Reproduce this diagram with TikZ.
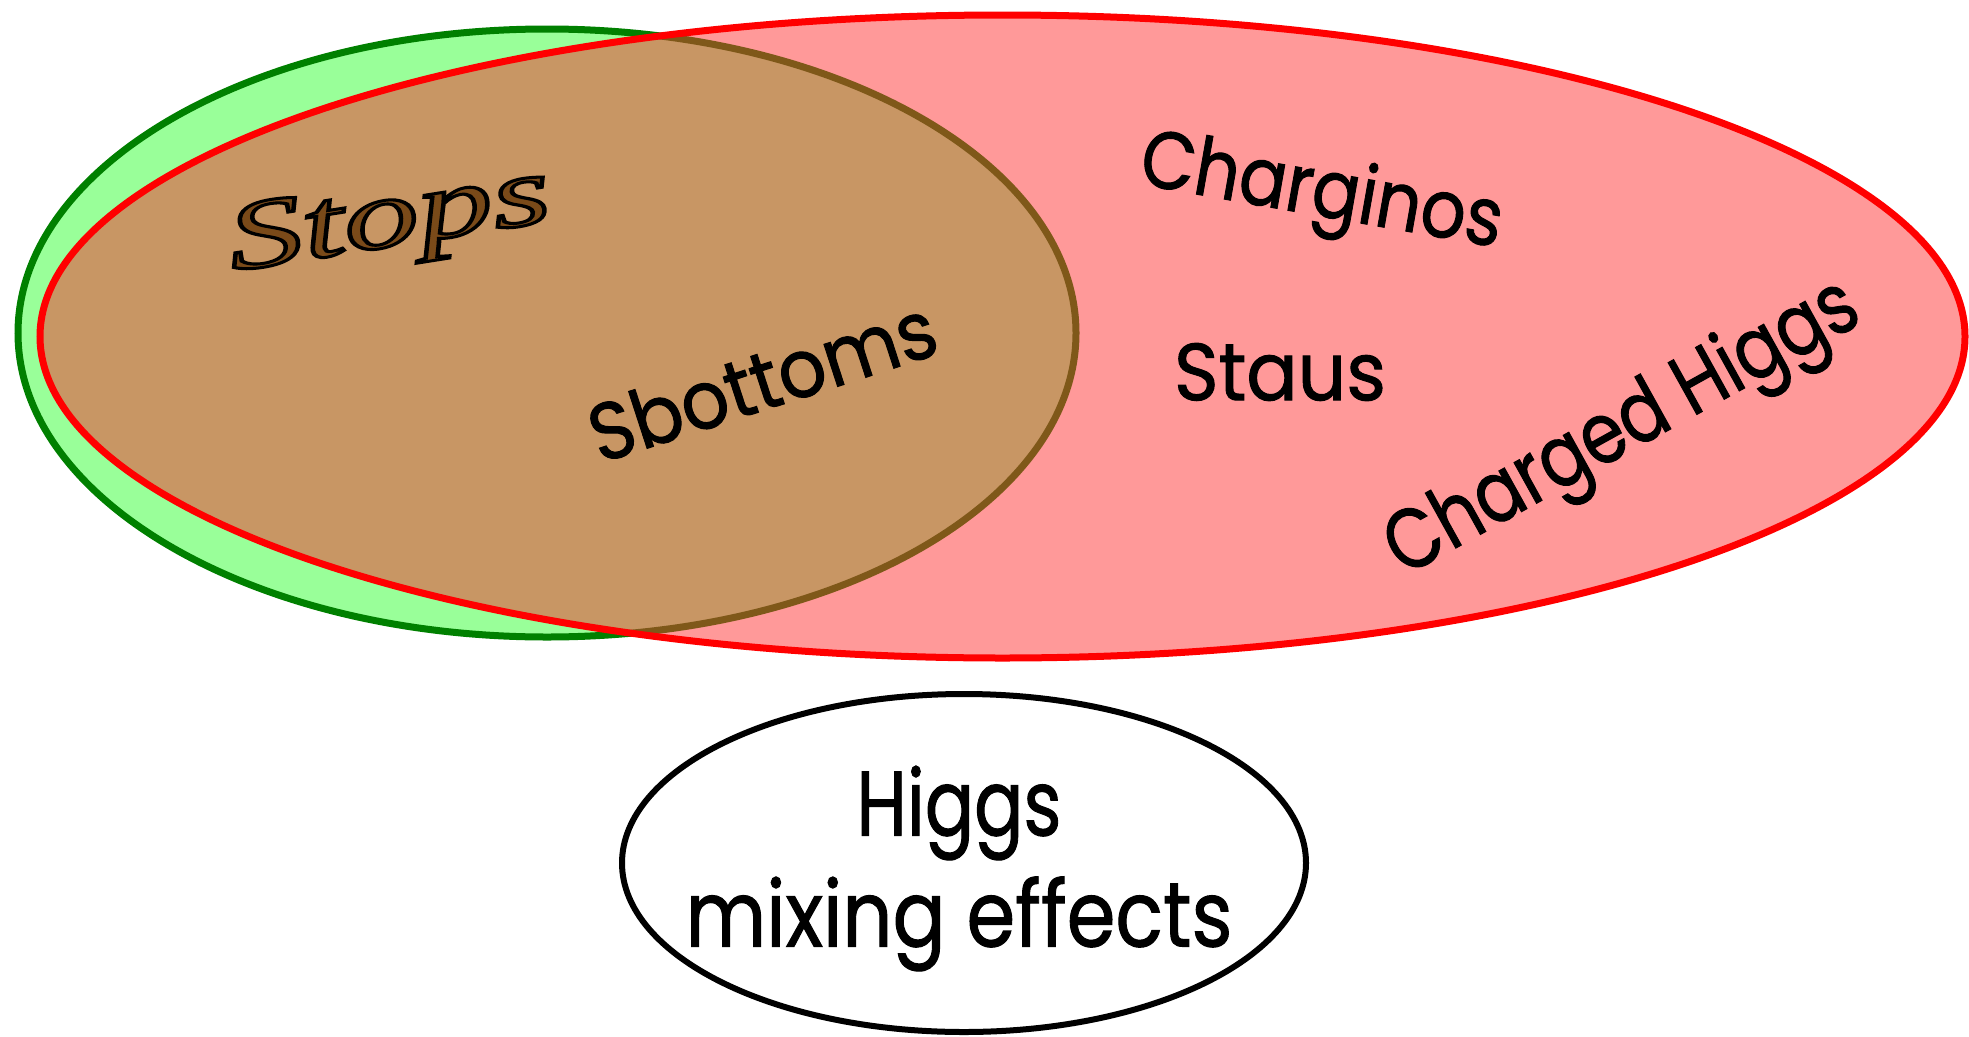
\documentclass[tikz,border=0pt]{standalone}
\usepackage{fontspec}
\usepackage{graphicx}
\usetikzlibrary{shapes.geometric}
\newfontfamily\handfont{Poppins}[FakeBold=1.2]
\newfontfamily\stopsfont{Liberation Serif}

\definecolor{greenfill}{RGB}{153,255,153}
\definecolor{greenline}{RGB}{0,128,0}
\definecolor{pinkfill}{RGB}{255,153,153}
\definecolor{redline}{RGB}{255,0,0}
\definecolor{brownfill}{RGB}{200,150,100}
\definecolor{brownline}{RGB}{127,88,25}
\definecolor{stopsbrown}{RGB}{122,74,25}

% stretch a text horizontally to a given width, keeping its height
\newcommand\fitw[2]{\resizebox{#1}{\height}{#2}}

\begin{document}
\begin{tikzpicture}[x=1pt,y=-1pt,
  setline/.style={line width=7pt},
  lbl/.style={inner sep=0pt, font=\handfont\fontsize{81}{90}\selectfont},
  biglbl/.style={inner sep=0pt, align=center, font=\handfont\fontsize{91.5}{111}\selectfont},
  greenset/.style={x radius=529pt, y radius=304pt},
  redset/.style={x radius=962.5pt, y radius=321.5pt}]
\useasboundingbox (0,0) rectangle (1969,1036);

\coordinate (gc) at (547,333);
\coordinate (rc) at (1002.5,336.5);

% left set
\path[setline, fill=greenfill, draw=greenline] (gc) ellipse [greenset];
% right set
\fill[pinkfill] (rc) ellipse [redset];
% overlap of the two sets
\begin{scope}
  \clip (rc) ellipse [redset];
  \path[setline, fill=brownfill, draw=brownline] (gc) ellipse [greenset];
\end{scope}
\draw[setline, redline] (rc) ellipse [redset];

% separate set below
\node[draw=black, fill=white, line width=6pt, ellipse, inner sep=0pt,
      minimum width=684pt, minimum height=338pt] (mix) at (964,863) {};

% labels
\node[inner sep=0pt, rotate=9] (stops) at (390,224)
  {\color{stopsbrown}\special{pdf:literal direct 2 Tr 3 w 0 0 0 RG}\fitw{325pt}{\stopsfont\itshape\fontsize{98}{100}\selectfont Stops}\special{pdf:literal direct 0 Tr}};
\node[lbl, rotate=18] (sbottoms) at (762,380) {\fitw{360pt}{Sbottoms}};
\node[lbl, rotate=-10] (charginos) at (1321,196) {\fitw{366pt}{Charginos}};
\node[lbl] (staus) at (1280,372) {\fitw{212pt}{Staus}};
\node[lbl, rotate=29, font=\handfont\fontsize{85}{90}\selectfont] (chiggs) at (1624,431) {\fitw{527pt}{Charged Higgs}};
\node[biglbl] (mixlabel) at (959,868.5) {\fitw{205pt}{Higgs}\\\fitw{547pt}{mixing effects}};
\end{tikzpicture}
\end{document}
